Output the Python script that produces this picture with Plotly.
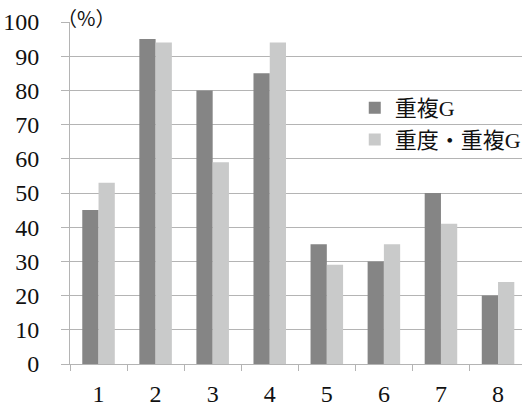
import plotly.graph_objects as go

categories = ["1", "2", "3", "4", "5", "6", "7", "8"]
series_names = ["重複G", "重度・重複G"]
jufuku = [45, 95, 80, 85, 35, 30, 50, 20]
judo_jufuku = [53, 94, 59, 94, 29, 35, 41, 24]
y_ticks = [0, 10, 20, 30, 40, 50, 60, 70, 80, 90, 100]

FONT = "Liberation Serif"
LEGEND_FONT = "Liberation Serif, Noto Sans CJK JP"
GRID = "#b4b4b4"

fig = go.Figure()
fig.add_trace(go.Bar(x=categories, y=jufuku, name=series_names[0],
                     marker=dict(color="#858585", line=dict(width=0))))
fig.add_trace(go.Bar(x=categories, y=judo_jufuku, name=series_names[1],
                     marker=dict(color="#c9caca", line=dict(width=0))))

fig.update_layout(
    width=526, height=407,
    margin=dict(l=70, r=0, t=22, b=38),
    paper_bgcolor="white", plot_bgcolor="white",
    barmode="group", bargap=0.43, bargroupgap=0,
    font=dict(family=FONT, size=23, color="#111111"),
    showlegend=True,
    legend=dict(x=0.63, y=0.81, xanchor="left", yanchor="top",
                bgcolor="rgba(0,0,0,0)", font=dict(family=LEGEND_FONT, size=22),
                itemsizing="constant", tracegroupgap=0, itemwidth=30),
    xaxis=dict(type="category", range=[-0.5, 7.42], tickson="boundaries",
               ticks="outside", ticklen=6, tickcolor=GRID, tickwidth=1,
               showline=True, linecolor=GRID, linewidth=1,
               showgrid=False, ticklabelstandoff=8,
               tickfont=dict(family=FONT, size=24)),
    yaxis=dict(range=[0, 100], tickvals=y_ticks, ticks="outside", ticklen=8,
               tickcolor=GRID, showline=True, linecolor=GRID, linewidth=1,
               showgrid=True, gridcolor=GRID, gridwidth=1, zeroline=False,
               ticklabelstandoff=17, tickfont=dict(family=FONT, size=24)),
    annotations=[dict(text="（%）", xref="paper", yref="paper", x=0.035, y=1.062,
                      xanchor="center", yanchor="top", showarrow=False,
                      font=dict(family="Noto Sans CJK JP", size=20))],
)

fig.write_html("out.html")
